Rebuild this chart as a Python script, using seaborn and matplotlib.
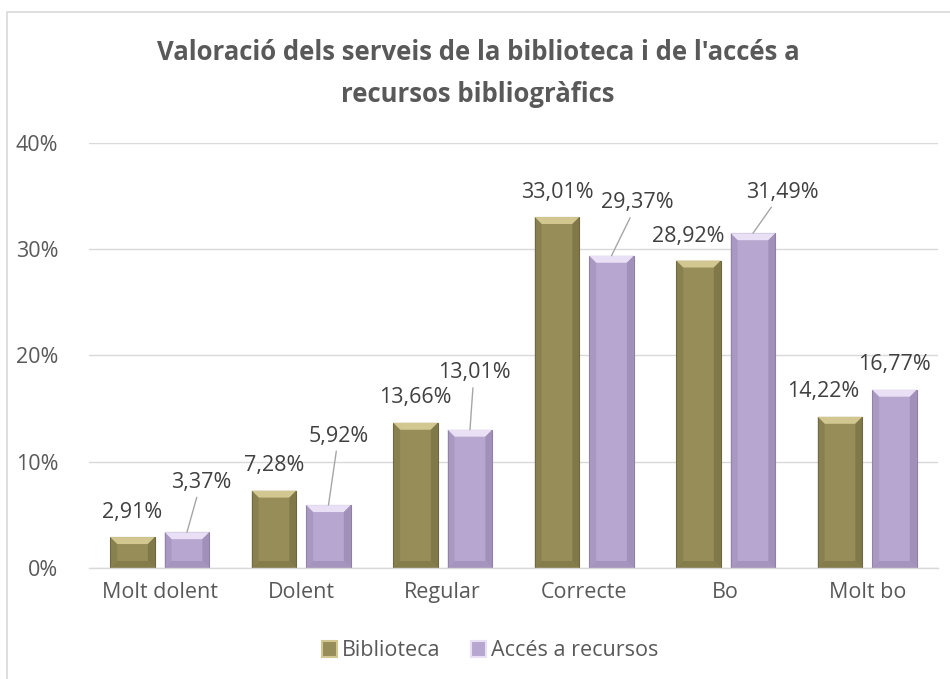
import pandas as pd

import matplotlib.pyplot as plt

import numpy as np

import seaborn as sns

from matplotlib.patches import Patch, Polygon, Rectangle


# ==========================================
# DATA
# ==========================================

categories = [
    "Molt dolent",
    "Dolent",
    "Regular",
    "Correcte",
    "Bo",
    "Molt bo"
]

series_names = [
    "Biblioteca",
    "Accés a recursos"
]

biblioteca = [0.0291, 0.0728, 0.1366, 0.3301, 0.2892, 0.1422]

acces_recursos = [0.0337, 0.0592, 0.1301, 0.2937, 0.3149, 0.1677]

y_ticks = [0.0, 0.1, 0.2, 0.3, 0.4]

y_tick_labels = ["0%", "10%", "20%", "30%", "40%"]

title_lines = [
    "Valoració dels serveis de la biblioteca i de l'accés a",
    "recursos bibliogràfics"
]


# ==========================================
# STYLE
# ==========================================

face_colors = ["#978d58", "#b7a6cf"]
light_colors = ["#d2c790", "#e9e0f5"]
dark_colors = ["#7a7145", "#9a89b2"]
edge_colors = ["#6b6440", "#8c7fa0"]

# label offsets in pixels (dx, dy) from the bar top centre
label_offsets = [
    [(0, 25), (0, 25), (0, 25), (0, 25), (-10, 24), (-17, 25)],
    [(14, 50), (10, 69), (4, 57), (26, 53), (29, 41), (0, 25)]
]

leader_lines = [
    [False] * 6,
    [True, True, True, True, True, False]
]

sns.set_theme(style="white")

plt.rcParams["font.family"] = ["Open Sans", "DejaVu Sans"]

dataframe = pd.DataFrame({
    "categoria": categories * 2,
    "serie": [series_names[0]] * 6 + [series_names[1]] * 6,
    "valor": biblioteca + acces_recursos
})

fig = plt.figure(figsize=(9.5, 6.79), dpi=100)

ax = fig.add_axes([89 / 950, 1 - 568 / 679, 849 / 950, (568 - 142.7) / 679])

sns.barplot(
    data=dataframe,
    x="categoria",
    y="valor",
    hue="serie",
    order=categories,
    hue_order=series_names,
    palette=face_colors,
    width=0.77,
    gap=0.18,
    saturation=1,
    legend=False,
    ax=ax
)

ax.set_ylim(0, 0.4)
ax.set_xlim(-0.5, len(categories) - 0.5)

ax.set_yticks(y_ticks)
ax.set_yticklabels(y_tick_labels)

ax.set_xlabel("")
ax.set_ylabel("")

ax.yaxis.grid(True, color="#d9d9d9", linewidth=1)
ax.set_axisbelow(True)

for side in ["left", "right", "top"]:
    ax.spines[side].set_visible(False)

ax.spines["bottom"].set_color("#d9d9d9")
ax.spines["bottom"].set_linewidth(1)

ax.tick_params(axis="y", length=0, pad=22, labelsize=15.5, labelcolor="#595959")
ax.tick_params(axis="x", length=0, pad=10, labelsize=15.5, labelcolor="#595959")


# ----------------------------------
# BEVEL EFFECT AND DATA LABELS
# ----------------------------------

px_x = 849 / len(categories)
px_y = (568 - 142.7) / 0.4

bevel_x = 7 / px_x
bevel_y = 7 / px_y

values_by_series = [biblioteca, acces_recursos]

for s, container in enumerate(ax.containers):

    for i, rect in enumerate(container.patches):

        rect.set_edgecolor(edge_colors[s])
        rect.set_linewidth(0.8)

        x0 = rect.get_x()
        w = rect.get_width()
        h = rect.get_height()
        top = h

        bx = min(bevel_x, w / 2)
        by = min(bevel_y, h / 2)

        top_poly = Polygon(
            [(x0, top), (x0 + w, top), (x0 + w - bx, top - by), (x0 + bx, top - by)],
            closed=True, facecolor=light_colors[s], edgecolor="none", zorder=rect.get_zorder() + 0.1
        )
        left_poly = Polygon(
            [(x0, 0), (x0, top), (x0 + bx, top - by), (x0 + bx, by)],
            closed=True, facecolor=dark_colors[s], edgecolor="none", alpha=0.45, zorder=rect.get_zorder() + 0.1
        )
        right_poly = Polygon(
            [(x0 + w, 0), (x0 + w, top), (x0 + w - bx, top - by), (x0 + w - bx, by)],
            closed=True, facecolor=dark_colors[s], edgecolor="none", alpha=0.75, zorder=rect.get_zorder() + 0.1
        )
        bottom_poly = Polygon(
            [(x0, 0), (x0 + w, 0), (x0 + w - bx, by), (x0 + bx, by)],
            closed=True, facecolor=dark_colors[s], edgecolor="none", alpha=0.6, zorder=rect.get_zorder() + 0.1
        )

        for poly in [top_poly, left_poly, right_poly, bottom_poly]:
            ax.add_patch(poly)

        value = values_by_series[s][i]
        label = f"{value * 100:.2f}".replace(".", ",") + "%"
        dx, dy = label_offsets[s][i]

        arrow = None
        if leader_lines[s][i]:
            arrow = dict(arrowstyle="-", color="#a6a6a6", lw=1, shrinkA=1, shrinkB=0)

        ax.annotate(
            label,
            xy=(x0 + w / 2, top),
            xytext=(dx, dy),
            textcoords="offset pixels",
            ha="center",
            va="center",
            fontsize=15.5,
            color="#404040",
            arrowprops=arrow,
            zorder=5
        )


# ----------------------------------
# LEGEND
# ----------------------------------

handles = [
    Patch(facecolor=face_colors[k], edgecolor=light_colors[k], linewidth=1.5, label=series_names[k])
    for k in range(len(series_names))
]

fig.legend(
    handles=handles,
    loc="center",
    bbox_to_anchor=(490 / 950, 1 - 651 / 679),
    ncol=2,
    frameon=False,
    fontsize=15.5,
    labelcolor="#595959",
    handlelength=0.7,
    handleheight=0.7,
    handletextpad=0.25,
    columnspacing=1.4
)


# ----------------------------------
# TITLE AND CHART BORDER
# ----------------------------------

fig.text(478 / 950, 1 - 52 / 679, title_lines[0], ha="center", va="center",
         fontsize=18.5, fontweight="bold", color="#595959")

fig.text(478 / 950, 1 - 94 / 679, title_lines[1], ha="center", va="center",
         fontsize=18.5, fontweight="bold", color="#595959")

fig.patches.append(
    Rectangle((7 / 950, -0.05), 1.1, 1 - 12 / 679 + 0.05, transform=fig.transFigure,
              fill=False, edgecolor="#d9d9d9", linewidth=1.2, zorder=0)
)

fig.savefig("out.png", dpi=100)
